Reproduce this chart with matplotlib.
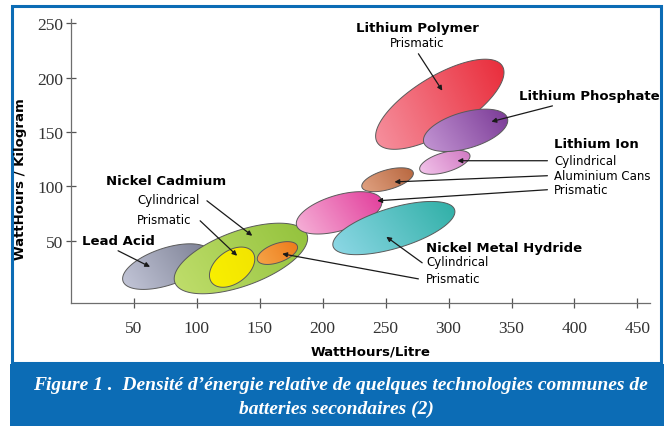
import numpy as np
import matplotlib
matplotlib.use("Agg")
import matplotlib.pyplot as plt
from matplotlib.patches import Polygon, Rectangle
from matplotlib.colors import LinearSegmentedColormap

# battery families, ranges (WattHours/Litre, WattHours/Kilogram)
names    = ["Lead Acid", "NiCd Cylindrical", "NiCd Prismatic", "NiMH Prismatic",
            "Li-ion Prismatic", "NiMH Cylindrical", "Li-ion Aluminium Cans",
            "Li-ion Cylindrical", "Lithium Polymer", "Lithium Phosphate"]
whl_lo   = [41, 82, 110, 148, 179, 208, 231, 277, 242, 280]
whl_hi   = [111, 188, 146, 180, 247, 305, 272, 317, 344, 347]
whkg_lo  = [5, 1, 7, 28, 56, 37, 95, 111, 134, 132]
whkg_hi  = [47, 66, 44, 49, 95, 86, 117, 133, 217, 171]
# shape: phase between x and y swing in degrees (small = thin)
tilt     = [58, 55, 66, 60, 60, 52, 58, 58, 45, 62]
light    = ["#c3c6d8", "#c0de6c", "#f9f000", "#f6a448", "#f6b2d8",
            "#8ed8e6", "#e0a282", "#f2c4ea", "#f6909e", "#c496d4"]
dark     = ["#7a7e92", "#93c23c", "#f2e400", "#ec7a1a", "#e23d9b",
            "#2fafa6", "#b8673f", "#d078c2", "#e92c3a", "#7a3a96"]

xticks = [50, 100, 150, 200, 250, 300, 350, 400, 450]
yticks = [50, 100, 150, 200, 250]

blue = "#0c6cb5"

fig = plt.figure(figsize=(6.69, 4.27), dpi=100)
W, H = 669.0, 427.0

# outer frame + caption box
fig.add_artist(Rectangle((10 / W, 0), 654 / W, 62 / H, transform=fig.transFigure,
                         facecolor=blue, edgecolor="none", zorder=0))
fig.add_artist(Rectangle((12 / W, (H - 364) / H), 649 / W, 357 / H, transform=fig.transFigure,
                         fill=False, edgecolor=blue, lw=2.2, zorder=1))

ax = fig.add_axes([71 / W, (H - 304) / H, 579 / W, 284 / H])

def blob(ax, i, z):
    lo, hi = whl_lo[i], whl_hi[i]
    blo, bhi = whkg_lo[i], whkg_hi[i]
    cx, cy = (lo + hi) / 2, (blo + bhi) / 2
    a, b = (hi - lo) / 2, (bhi - blo) / 2
    t = np.linspace(0, 2 * np.pi, 240)
    d = np.radians(tilt[i])
    pts = np.column_stack([cx + a * np.cos(t), cy + b * np.cos(t - d)])
    patch = Polygon(pts, closed=True, facecolor="none", edgecolor="#5a5a5a", lw=0.7, zorder=z + 0.5)
    ax.add_patch(patch)
    gx, gy = np.meshgrid(np.linspace(0, 1, 60), np.linspace(0, 1, 60))
    g = 0.75 * gx + 0.25 * gy
    cmap = LinearSegmentedColormap.from_list("c%d" % i, [light[i], dark[i]])
    im = ax.imshow(g, extent=(lo, hi, blo, bhi), origin="lower", aspect="auto",
                   cmap=cmap, interpolation="bilinear", zorder=z)
    im.set_clip_path(patch)

for i in range(len(names)):
    blob(ax, i, 2 + i)

ax.set_xlim(0, 460)
ax.set_ylim(-7.5, 254)

for s in ["top", "right"]:
    ax.spines[s].set_visible(False)
for s in ["left", "bottom"]:
    ax.spines[s].set_color("#6e6e6e")
    ax.spines[s].set_linewidth(0.9)

ax.set_xticks(xticks)
ax.set_yticks(yticks)
ax.tick_params(axis="both", direction="inout", length=7, width=0.9, color="#555555",
               labelsize=12.5, labelcolor="#333333")
ax.tick_params(axis="x", pad=9)
ax.tick_params(axis="y", pad=2)
for lab in ax.get_xticklabels() + ax.get_yticklabels():
    lab.set_fontfamily("Liberation Serif")

fig.text(371 / W, 1 - 352 / H, "WattHours/Litre", ha="center", va="center",
         fontsize=9.5, fontweight="bold", family="DejaVu Sans")
fig.text(21 / W, 1 - 179 / H, "WattHours / Kilogram", ha="center", va="center",
         rotation=90, fontsize=9.5, fontweight="bold", family="DejaVu Sans")

bold = dict(fontsize=9.5, fontweight="bold", family="DejaVu Sans", va="center", zorder=20)
reg = dict(fontsize=8.5, family="DejaVu Sans", va="center", zorder=20)

def arrow(x0, y0, x1, y1):
    ax.annotate("", xy=(x1, y1), xytext=(x0, y0),
                arrowprops=dict(arrowstyle="-|>", color="#1a1a1a", lw=0.9,
                                mutation_scale=7, shrinkA=0, shrinkB=0),
                zorder=21, annotation_clip=False)

# Lithium Polymer
ax.text(275, 246, "Lithium Polymer", ha="center", **bold)
ax.text(275, 232, "Prismatic", ha="center", **reg)
arrow(276, 222, 295, 188)

# Lithium Phosphate
ax.text(356, 183.5, "Lithium Phosphate", ha="left", **bold)
arrow(382.5, 174, 334, 159.5)

# Lithium Ion
ax.text(384, 139, "Lithium Ion", ha="left", **bold)
ax.text(384, 123.5, "Cylindrical", ha="left", **reg)
ax.text(384, 109.7, "Aluminium Cans", ha="left", **reg)
ax.text(384, 96.8, "Prismatic", ha="left", **reg)
arrow(378.5, 123.5, 307, 123.5)
arrow(378.5, 109.7, 257, 104)
arrow(378.5, 96.8, 243.3, 86.6)

# Nickel Cadmium
ax.text(75.5, 105, "Nickel Cadmium", ha="center", **bold)
ax.text(52.5, 87.6, "Cylindrical", ha="left", **reg)
ax.text(52.5, 69.1, "Prismatic", ha="left", **reg)
arrow(108, 86.6, 144, 54.4)
arrow(102.6, 68.2, 132, 36)

# Lead Acid
ax.text(8.7, 49.8, "Lead Acid", ha="left", **bold)
arrow(37.4, 40.6, 62.8, 25.8)

# Nickel Metal Hydride
ax.text(282.3, 43.3, "Nickel Metal Hydride", ha="left", **bold)
ax.text(282.3, 30.4, "Cylindrical", ha="left", **reg)
ax.text(282.3, 14.7, "Prismatic", ha="left", **reg)
arrow(279, 29.5, 250.5, 53.5)
arrow(276, 14.7, 167.8, 37.8)

# caption
cap = dict(ha="center", va="center", color="white", fontsize=14, fontstyle="italic",
           fontweight="bold", family="Liberation Serif")
fig.text(340 / W, 1 - 386 / H,
         "Figure 1 .  Densité d’énergie relative de quelques technologies communes de", **cap)
fig.text(336 / W, 1 - 409 / H, "batteries secondaires (2)", **cap)

fig.savefig("out.png", dpi=100)
